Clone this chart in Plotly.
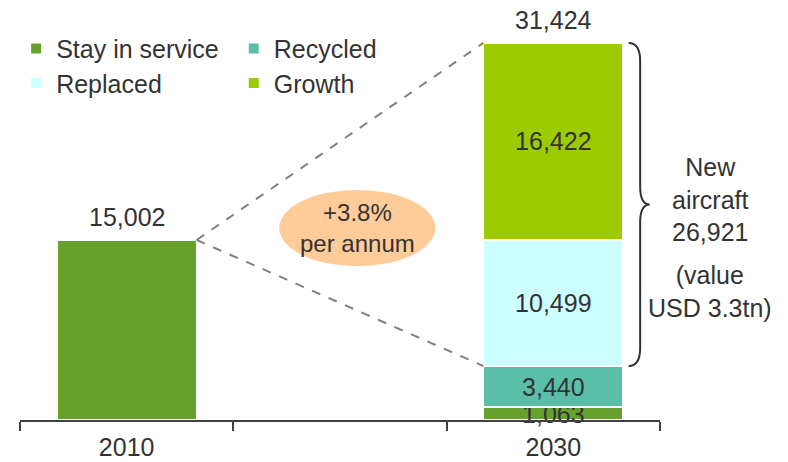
import plotly.graph_objects as go

# Fleet figures (number of aircraft); the middle slot is an empty spacer
categories = ["2010", "", "2030"]
stay_in_service = [15002, None, 1063]
recycled = [None, None, 3440]
replaced = [None, None, 10499]
growth = [None, None, 16422]

growth_rate_label = "+3.8%<br>per annum"
value_label = "(value<br>USD 3.3tn)"

colors = {
    "Stay in service": "#66A12E",
    "Recycled": "#5BBFA8",
    "Replaced": "#CCFFFF",
    "Growth": "#9BCB00",
}
FONT = "Liberation Sans, Arial, sans-serif"
TXT = "#333333"
FS = 25
BARGAP = 0.344

xpos = list(range(len(categories)))
i10, i30 = categories.index("2010"), categories.index("2030")

total_2010 = stay_in_service[i10]
total_2030 = stay_in_service[i30] + recycled[i30] + replaced[i30] + growth[i30]
new_aircraft = replaced[i30] + growth[i30]
base_new = stay_in_service[i30] + recycled[i30]


def labels(vals, show):
    return [f"{v:,}" if (v is not None and s) else "" for v, s in zip(vals, show)]


fig = go.Figure()
# one legend box per entry, laid out as a 2x2 grid
series = [
    ("Stay in service", stay_in_service, [False, False, True], "legend"),
    ("Recycled", recycled, [True] * 3, "legend2"),
    ("Replaced", replaced, [True] * 3, "legend3"),
    ("Growth", growth, [True] * 3, "legend4"),
]
for name, vals, show, leg in series:
    fig.add_trace(go.Bar(
        name=name, x=xpos, y=vals,
        marker=dict(color=colors[name], line=dict(color="white", width=2)),
        text=labels(vals, show), textposition="inside",
        insidetextanchor="middle", constraintext="none", textangle=0,
        textfont=dict(family=FONT, size=FS, color=TXT),
        cliponaxis=False, legend=leg, hoverinfo="skip",
    ))

# Totals above the bars
for i, tot in [(i10, total_2010), (i30, total_2030)]:
    fig.add_annotation(x=xpos[i], y=tot, text=f"{tot:,}", showarrow=False,
                       xanchor="center", yanchor="bottom", yshift=7,
                       font=dict(family=FONT, size=FS, color=TXT))

# Dashed projection lines from the 2010 bar to the 2030 bar
half = (1 - BARGAP) / 2
for y_end in (total_2030, base_new):
    fig.add_shape(type="line", xref="x", yref="y",
                  x0=xpos[i10] + half, y0=total_2010,
                  x1=xpos[i30] - half, y1=y_end,
                  line=dict(color="#808080", width=2, dash="dash"))

# Growth-rate bubble
fig.add_shape(type="circle", xref="paper", yref="paper",
              x0=0.405, x1=0.649, y0=0.377, y1=0.564,
              fillcolor="#FFCC99", line=dict(width=0), layer="below")
fig.add_annotation(xref="paper", yref="paper", x=0.527, y=0.47,
                   xanchor="center", yanchor="middle",
                   text=growth_rate_label, showarrow=False,
                   font=dict(family=FONT, size=24, color=TXT))

# Curly brace spanning the new-aircraft segments
xa, xb, xc = 0.951, 0.969, 0.984
d = 1500
mid = (total_2030 + base_new) / 2
path = (f"M {xa},{total_2030} Q {xb},{total_2030} {xb},{total_2030 - d} "
        f"L {xb},{mid + d} Q {xb},{mid} {xc},{mid} "
        f"Q {xb},{mid} {xb},{mid - d} "
        f"L {xb},{base_new + d} Q {xb},{base_new} {xa},{base_new}")
fig.add_shape(type="path", xref="paper", yref="y", path=path,
              line=dict(color="#333333", width=2))

fig.add_annotation(xref="paper", yref="y", x=1.078, y=mid,
                   text=f"New<br>aircraft<br>{new_aircraft:,}",
                   showarrow=False, xanchor="center", yanchor="middle",
                   align="center", yshift=5,
                   font=dict(family=FONT, size=FS, color=TXT))
fig.add_annotation(xref="paper", yref="paper", x=1.078, y=0.316,
                   text=value_label, showarrow=False,
                   xanchor="center", yanchor="middle", align="center",
                   font=dict(family=FONT, size=FS, color=TXT))

legend_style = dict(font=dict(family=FONT, size=FS, color=TXT),
                    bgcolor="rgba(0,0,0,0)", orientation="v",
                    xanchor="left", yanchor="top", itemclick=False)

fig.update_layout(
    width=788, height=462, autosize=False,
    margin=dict(l=20, r=128, t=12, b=42),
    barmode="stack", bargap=BARGAP,
    plot_bgcolor="white", paper_bgcolor="white",
    font=dict(family=FONT, size=FS, color=TXT),
    showlegend=True,
    legend=dict(x=-0.006, y=0.966, **legend_style),
    legend2=dict(x=0.334, y=0.966, **legend_style),
    legend3=dict(x=-0.006, y=0.882, **legend_style),
    legend4=dict(x=0.334, y=0.882, **legend_style),
    xaxis=dict(range=[xpos[0] - 0.5, xpos[-1] + 0.5], automargin=False,
               showline=True, linecolor="#404040", linewidth=2,
               tickmode="array", tickvals=xpos, ticktext=categories,
               ticks="", ticklabelstandoff=4,
               minor=dict(ticks="outside", tickmode="array",
                          tickvals=[p - 0.5 for p in xpos] + [xpos[-1] + 0.5],
                          ticklen=9, tickwidth=2, tickcolor="#404040",
                          showgrid=False),
               showgrid=False, zeroline=False,
               tickfont=dict(family=FONT, size=FS, color=TXT), fixedrange=True),
    yaxis=dict(range=[0, 34000], visible=False, showgrid=False,
               automargin=False, fixedrange=True),
)

fig.write_html("out.html")
